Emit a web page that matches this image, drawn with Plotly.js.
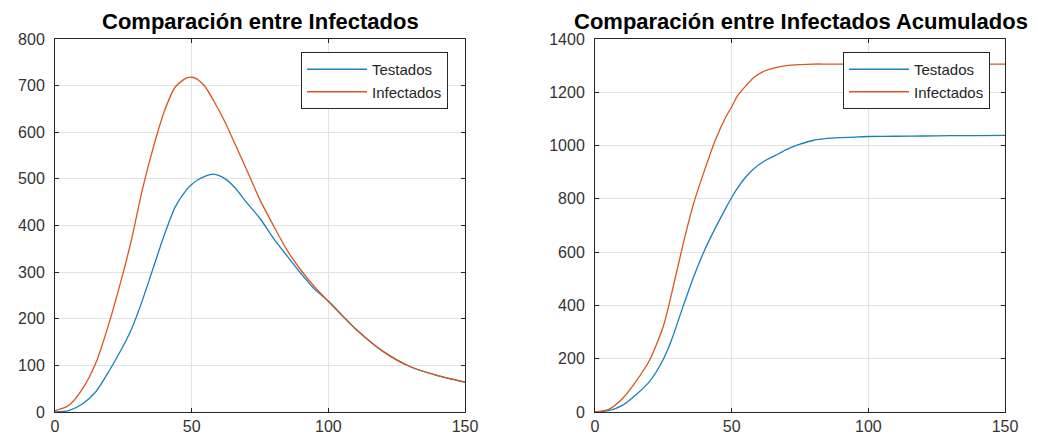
<!DOCTYPE html>
<html>
<head>
<meta charset="utf-8">
<script src="https://cdn.plot.ly/plotly-3.0.1.min.js"></script>
<style>html,body{margin:0;padding:0;background:#fff;}#chart{width:1038px;height:439px;}</style>
</head>
<body>
<div id="chart"></div>
<script>
// Days (x values)
const days = [0,5,10,15,20,25,28,32,36,40,44,48,50,52,55,58,62,66,70,75,80,85,90,95,100,110,120,130,140,150];

// Left: daily infected comparison
const testadosDaily   = [0,3,17,44,90,142,178,240,310,380,440,476,488,497,506,510,501,480,450,415,372,334,297,263,238,178,130,97,78,64];
const infectadosDaily = [3,14,49,106,195,300,370,478,568,645,697,716,718,714,697,668,624,573,521,455,399,346,304,268,237,178,130,97,78,64];

// Right: cumulative comparison
const testadosCum   = [0,5,25,65,115,198,270,390,505,605,690,768,805,838,880,912,942,963,985,1005,1020,1027,1030,1032,1034,1035,1036,1037,1037,1038];
const infectadosCum = [0,10,50,115,195,322,443,620,780,905,1020,1110,1145,1185,1222,1255,1280,1293,1300,1304,1306,1306,1306,1306,1306,1306,1306,1306,1306,1306];

const seriesNames = ['Testados', 'Infectados'];
const titles = ['Comparación entre Infectados', 'Comparación entre Infectados Acumulados'];
const xTicks = [0, 50, 100, 150];
const yTicksLeft = [0,100,200,300,400,500,600,700,800];
const yTicksRight = [0,200,400,600,800,1000,1200,1400];

const blue = '#1a7fbd';
const red = '#d9561f';
const W = 1038, H = 439;

function ln(c) { return {color: c, width: 1.3, shape: 'spline', smoothing: 0.7}; }
const traces = [
  {x: days, y: testadosDaily, name: seriesNames[0], type: 'scatter', mode: 'lines', line: ln(blue), xaxis: 'x', yaxis: 'y', legend: 'legend'},
  {x: days, y: infectadosDaily, name: seriesNames[1], type: 'scatter', mode: 'lines', line: ln(red), xaxis: 'x', yaxis: 'y', legend: 'legend'},
  {x: days, y: testadosCum, name: seriesNames[0], type: 'scatter', mode: 'lines', line: ln(blue), xaxis: 'x2', yaxis: 'y2', legend: 'legend2'},
  {x: days, y: infectadosCum, name: seriesNames[1], type: 'scatter', mode: 'lines', line: ln(red), xaxis: 'x2', yaxis: 'y2', legend: 'legend2'}
];

const tickFont = {family: 'Liberation Sans, Arial, sans-serif', size: 16, color: '#333'};
function xAx(dom, anchor) {
  return {domain: dom, anchor: anchor, range: [0,150], tickvals: xTicks, ticks: 'inside', ticklen: 4,
    tickcolor: '#262626', showline: true, linecolor: '#262626', linewidth: 1, mirror: 'ticks',
    showgrid: true, gridcolor: '#e3e3e3', zeroline: false, tickfont: tickFont, ticklabelstandoff: 0, fixedrange: true};
}
function yAx(range, ticks, anchor) {
  return {domain: [1-412/H, 1-39/H], anchor: anchor, range: range, tickvals: ticks, ticks: 'inside', ticklen: 4,
    tickcolor: '#262626', showline: true, linecolor: '#262626', linewidth: 1, mirror: 'ticks',
    showgrid: true, gridcolor: '#e3e3e3', zeroline: false, tickfont: tickFont, ticklabelstandoff: 6, fixedrange: true};
}
const legendBase = {bgcolor: '#fff', bordercolor: '#262626', borderwidth: 1,
  font: {family: 'Liberation Sans, Arial, sans-serif', size: 15, color: '#262626'},
  xanchor: 'right', yanchor: 'top', y: 1-52/H, itemwidth: 60, tracegroupgap: 0};

const layout = {
  width: W, height: H,
  margin: {l: 0, r: 0, t: 0, b: 0},
  paper_bgcolor: '#fff', plot_bgcolor: '#fff',
  xaxis: xAx([55/W, 465/W], 'y'),
  yaxis: yAx([0,800], yTicksLeft, 'x'),
  xaxis2: xAx([595/W, 1005/W], 'y2'),
  yaxis2: yAx([0,1400], yTicksRight, 'x2'),
  legend: Object.assign({}, legendBase, {x: 448/W}),
  legend2: Object.assign({}, legendBase, {x: 990/W}),
  showlegend: true,
  annotations: [
    {text: '<b>' + titles[0] + '</b>', xref: 'paper', yref: 'paper', x: 260/W, y: 1-7/H, xanchor: 'center', yanchor: 'top', showarrow: false,
     font: {family: 'Liberation Sans, Arial, sans-serif', size: 22, color: '#000'}},
    {text: '<b>' + titles[1] + '</b>', xref: 'paper', yref: 'paper', x: 801/W, y: 1-7/H, xanchor: 'center', yanchor: 'top', showarrow: false,
     font: {family: 'Liberation Sans, Arial, sans-serif', size: 22, color: '#000'}}
  ]
};

Plotly.newPlot('chart', traces, layout, {displayModeBar: false, staticPlot: true});
</script>
</body>
</html>
